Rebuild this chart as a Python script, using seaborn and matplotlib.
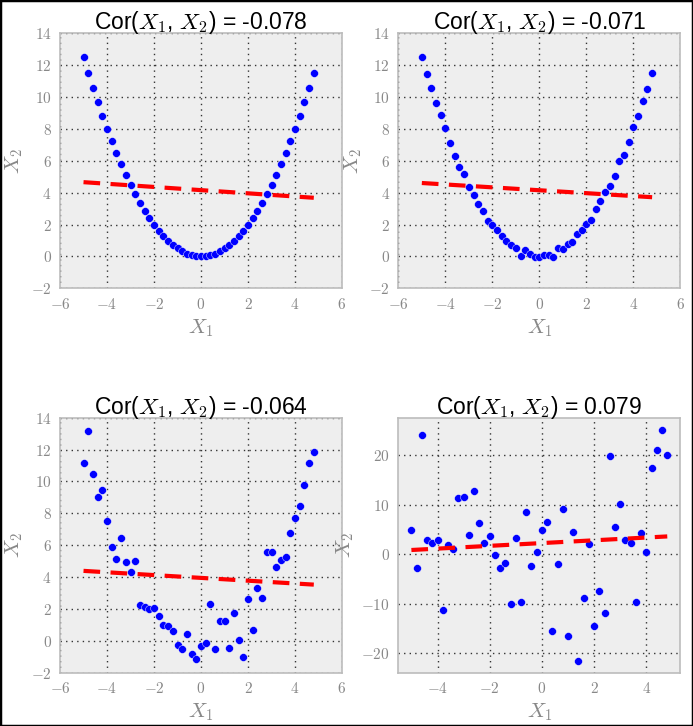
import numpy as np
import pandas as pd
import matplotlib
matplotlib.use("Agg")
import matplotlib.pyplot as plt
from matplotlib.ticker import FuncFormatter
from matplotlib.patches import Rectangle
import seaborn as sns

# x grid shared by all four panels
x_vals = [-5.0, -4.8, -4.6, -4.4, -4.2, -4.0, -3.8, -3.6, -3.4, -3.2,
          -3.0, -2.8, -2.6, -2.4, -2.2, -2.0, -1.8, -1.6, -1.4, -1.2,
          -1.0, -0.8, -0.6, -0.4, -0.2, 0.0, 0.2, 0.4, 0.6, 0.8,
          1.0, 1.2, 1.4, 1.6, 1.8, 2.0, 2.2, 2.4, 2.6, 2.8,
          3.0, 3.2, 3.4, 3.6, 3.8, 4.0, 4.2, 4.4, 4.6, 4.8]

y_panel1 = [12.5, 11.52, 10.58, 9.68, 8.82, 8.0, 7.22, 6.48, 5.78, 5.12,
            4.5, 3.92, 3.38, 2.88, 2.42, 2.0, 1.62, 1.28, 0.98, 0.72,
            0.5, 0.32, 0.18, 0.08, 0.02, 0.0, 0.02, 0.08, 0.18, 0.32,
            0.5, 0.72, 0.98, 1.28, 1.62, 2.0, 2.42, 2.88, 3.38, 3.92,
            4.5, 5.12, 5.78, 6.48, 7.22, 8.0, 8.82, 9.68, 10.58, 11.52]

y_panel2 = [12.54, 11.46, 10.58, 9.63, 8.88, 8.06, 7.13, 6.33, 5.63, 5.17,
            4.38, 3.85, 3.31, 2.85, 2.23, 1.98, 1.65, 1.27, 0.94, 0.73,
            0.52, 0.02, 0.38, 0.13, -0.04, -0.06, 0.06, 0.06, -0.04, 0.52,
            0.48, 0.81, 0.9, 1.42, 1.65, 2.06, 2.31, 3.0, 3.46, 4.04,
            4.44, 5.06, 6.0, 6.38, 7.21, 8.1, 8.81, 9.73, 10.52, 11.54]

y_panel3 = [11.19, 13.17, 10.46, 9.0, 9.48, 7.54, 5.88, 5.13, 6.46, 4.94,
            4.35, 4.98, 2.25, 2.13, 2.02, 2.06, 1.56, 0.98, 0.92, 0.6,
            -0.23, -0.5, 0.44, -0.81, -1.15, -0.33, -0.15, 2.31, -0.54, 1.25,
            1.25, -0.48, 1.75, 0.08, -1.04, 2.6, 0.65, 3.31, 2.69, 5.56,
            5.56, 4.65, 5.06, 5.23, 6.77, 7.69, 8.44, 9.81, 11.15, 11.85]

y_panel4 = [4.9, -2.85, 24.2, 2.85, 2.3, 2.85, -11.15, 1.8, 1.0, 11.4,
            11.55, 4.0, 12.75, 6.3, 2.4, 3.65, -0.2, -2.65, -1.65, -10.1,
            3.3, -9.55, 8.6, -2.4, 0.55, 4.9, 6.45, -15.5, -1.85, 9.15,
            -16.4, 4.6, -21.5, -8.9, 2.05, -14.5, -7.4, -11.75, 19.85, 5.6,
            10.15, 2.9, 2.3, -9.7, 4.3, 0.45, 17.45, 21.15, 25.2, 20.0]

titles = ["-0.078", "-0.071", "-0.064", "0.079"]

sns.set_style("white")
plt.rcParams["mathtext.fontset"] = "cm"

fig = plt.figure(figsize=(6.93, 7.26), dpi=100)
fig.patches.append(Rectangle((0, 0), 1, 1, transform=fig.transFigure,
                             fill=False, edgecolor="black", linewidth=2.5))

positions = [
    [0.0866, 0.6029, 0.4069, 0.3512],
    [0.5748, 0.6029, 0.4069, 0.3512],
    [0.0866, 0.0734, 0.4069, 0.3512],
    [0.5748, 0.0734, 0.4069, 0.3512],
]
series = [y_panel1, y_panel2, y_panel3, y_panel4]

fmt = FuncFormatter(lambda v, p: r"$%g$" % v)

for i in range(4):
    ax = fig.add_axes(positions[i])
    df = pd.DataFrame({"x": x_vals, "y": series[i]})
    sns.scatterplot(data=df, x="x", y="y", ax=ax, color="#0000ff",
                    s=32, linewidth=0.3, edgecolor="white", zorder=3)
    sns.regplot(data=df, x="x", y="y", ax=ax, scatter=False, ci=None,
                line_kws=dict(color="red", linestyle="--", linewidth=3,
                              dashes=(4, 2.5), zorder=4))
    ax.set_facecolor("#eeeeee")
    for sp in ax.spines.values():
        sp.set_color("#bcbcbc")
        sp.set_linewidth(1.2)
    ax.grid(True, color="#333333", linestyle=(0, (1, 3)), linewidth=1.0)
    ax.set_axisbelow(True)
    if i < 3:
        ax.set_xlim(-6, 6)
        ax.set_ylim(-2, 14)
        ax.set_xticks([-6, -4, -2, 0, 2, 4, 6])
        ax.set_yticks([-2, 0, 2, 4, 6, 8, 10, 12, 14])
    else:
        ax.set_xlim(-5.5, 5.3)
        ax.set_ylim(-23.9, 27.6)
        ax.set_xticks([-4, -2, 0, 2, 4])
        ax.set_yticks([-20, -10, 0, 10, 20])
    ax.xaxis.set_major_formatter(fmt)
    ax.yaxis.set_major_formatter(fmt)
    ax.tick_params(length=0, labelsize=11, labelcolor="#888888", pad=6)
    ax.set_xlabel(r"$X_1$", fontsize=15, color="#888888", labelpad=4)
    ax.set_ylabel(r"$X_2$", fontsize=15, color="#888888", labelpad=4)
    ax.set_title(r"Cor($X_1$, $X_2$) = " + titles[i], fontsize=16.5,
                 family="Liberation Sans", color="black", pad=3)

fig.savefig("out.png", dpi=100)
